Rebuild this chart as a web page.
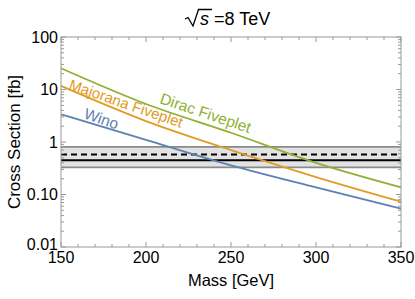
<!DOCTYPE html>
<html>
<head>
<meta charset="utf-8">
<script src="https://cdn.jsdelivr.net/npm/d3@7"></script>
<style>
  body { margin: 0; background: #fff; }
  text { font-family: "Liberation Sans", Arial, sans-serif; }
</style>
</head>
<body>
<script>
// Data
const masses = [150, 200, 250, 300, 350];
const wino = [3.37, 1.1, 0.36, 0.137, 0.054];
const majorana = [11.7, 2.5, 0.7, 0.215, 0.073];
const dirac = [25.4, 5.3, 1.5, 0.4, 0.137];

const bandTop = 0.81;
const bandBottom = 0.33;
const expectedLimit = 0.58; // dashed
const observedLimit = 0.45; // solid

const xTicks = [150, 200, 250, 300, 350];
const yTicks = [0.01, 0.1, 1, 10, 100];
const yTickLabels = ["0.01", "0.10", "1", "10", "100"];

const width = 415;
const height = 299;
const margins = { left: 61, right: 14, top: 37, bottom: 52 };

const xScale = d3
  .scaleLinear()
  .domain([150, 350])
  .range([margins.left, width - margins.right]);

const yScale = d3
  .scaleLog()
  .domain([0.01, 100])
  .range([height - margins.bottom, margins.top]);

const svg = d3
  .select("body")
  .append("svg")
  .attr("width", width)
  .attr("height", height);

const x0 = xScale.range()[0];
const x1 = xScale.range()[1];
const yb = yScale.range()[0];
const yt = yScale.range()[1];

// Band
svg
  .append("rect")
  .attr("x", x0)
  .attr("width", x1 - x0)
  .attr("y", yScale(bandTop))
  .attr("height", yScale(bandBottom) - yScale(bandTop))
  .attr("fill", "#e2e2e2");

[bandTop, bandBottom].forEach((v) => {
  svg
    .append("line")
    .attr("x1", x0)
    .attr("x2", x1)
    .attr("y1", yScale(v))
    .attr("y2", yScale(v))
    .attr("stroke", "#8a8a8a")
    .attr("stroke-width", 1.8);
});

svg
  .append("line")
  .attr("x1", x0)
  .attr("x2", x1)
  .attr("y1", yScale(expectedLimit))
  .attr("y2", yScale(expectedLimit))
  .attr("stroke", "black")
  .attr("stroke-width", 2)
  .attr("stroke-dasharray", "6,4");

svg
  .append("line")
  .attr("x1", x0)
  .attr("x2", x1)
  .attr("y1", yScale(observedLimit))
  .attr("y2", yScale(observedLimit))
  .attr("stroke", "black")
  .attr("stroke-width", 2);

// Curves
const line = d3
  .line()
  .x((d) => xScale(d[0]))
  .y((d) => yScale(d[1]))
  .curve(d3.curveMonotoneX);

const series = [
  { values: wino, color: "#5e81b5" },
  { values: majorana, color: "#e19c24" },
  { values: dirac, color: "#8fb032" },
];

svg
  .append("g")
  .selectAll("path")
  .data(series)
  .join("path")
  .attr("d", (s) => line(masses.map((m, i) => [m, s.values[i]])))
  .attr("fill", "none")
  .attr("stroke", (s) => s.color)
  .attr("stroke-width", 1.8);

// Frame
svg
  .append("rect")
  .attr("x", x0)
  .attr("y", yt)
  .attr("width", x1 - x0)
  .attr("height", yb - yt)
  .attr("fill", "none")
  .attr("stroke", "#9a9a9a")
  .attr("stroke-width", 1);

// Ticks (inside, on all four sides)
const ticks = svg.append("g").attr("stroke", "#9a9a9a").attr("stroke-width", 1);
d3.range(150, 351, 10).forEach((m) => {
  const len = m % 50 === 0 ? 5 : 3;
  const x = xScale(m);
  ticks.append("line").attr("x1", x).attr("x2", x).attr("y1", yb).attr("y2", yb - len);
  ticks.append("line").attr("x1", x).attr("x2", x).attr("y1", yt).attr("y2", yt + len);
});
yTicks.forEach((t, i) => {
  const y = yScale(t);
  ticks.append("line").attr("x1", x0).attr("x2", x0 + 5).attr("y1", y).attr("y2", y);
  ticks.append("line").attr("x1", x1).attr("x2", x1 - 5).attr("y1", y).attr("y2", y);
  if (i < yTicks.length - 1) {
    d3.range(2, 10).forEach((k) => {
      const ym = yScale(t * k);
      ticks.append("line").attr("x1", x0).attr("x2", x0 + 3).attr("y1", ym).attr("y2", ym);
      ticks.append("line").attr("x1", x1).attr("x2", x1 - 3).attr("y1", ym).attr("y2", ym);
    });
  }
});

// Tick labels
svg
  .append("g")
  .selectAll("text")
  .data(xTicks)
  .join("text")
  .attr("x", (d) => xScale(d))
  .attr("y", yb + 16)
  .attr("text-anchor", "middle")
  .attr("font-size", "16px")
  .text((d) => d);

svg
  .append("g")
  .selectAll("text")
  .data(yTicks)
  .join("text")
  .attr("x", x0 - 3)
  .attr("y", (d, i) => yScale(d) + (i === 0 ? 3 : 5.5))
  .attr("text-anchor", "end")
  .attr("font-size", "16px")
  .text((d, i) => yTickLabels[i]);

// Axis labels
svg
  .append("text")
  .attr("x", (x0 + x1) / 2)
  .attr("y", 286)
  .attr("text-anchor", "middle")
  .attr("font-size", "16.5px")
  .text("Mass [GeV]");

svg
  .append("text")
  .attr("transform", `translate(20, ${(yt + yb) / 2}) rotate(-90)`)
  .attr("text-anchor", "middle")
  .attr("font-size", "17px")
  .text("Cross Section [fb]");

// Title: sqrt(s) = 8 TeV
const title = svg.append("g");
title
  .append("path")
  .attr("d", "M 185 19 L 188 17.5 L 193 26 L 198.5 9.5 L 212 9.5")
  .attr("fill", "none")
  .attr("stroke", "black")
  .attr("stroke-width", 1.3);
title
  .append("text")
  .attr("x", 200)
  .attr("y", 25)
  .attr("font-size", "18px")
  .attr("font-style", "italic")
  .text("s");
title
  .append("text")
  .attr("x", 214)
  .attr("y", 25)
  .attr("font-size", "18px")
  .text("=8 TeV");

// Curve labels (baseline start point + rotation)
const labels = [
  { text: "Wino", x: 83, y: 118, angle: 19, size: 15.5, color: "#5e81b5" },
  { text: "Majorana Fiveplet", x: 68, y: 89, angle: 19, size: 15, color: "#e19c24" },
  { text: "Dirac Fiveplet", x: 159, y: 103, angle: 18.5, size: 15.5, color: "#8fb032" },
];
svg
  .append("g")
  .selectAll("text")
  .data(labels)
  .join("text")
  .attr("transform", (d) => `translate(${d.x}, ${d.y}) rotate(${d.angle})`)
  .attr("text-anchor", "start")
  .attr("font-size", (d) => d.size + "px")
  .attr("fill", (d) => d.color)
  .text((d) => d.text);
</script>
</body>
</html>
